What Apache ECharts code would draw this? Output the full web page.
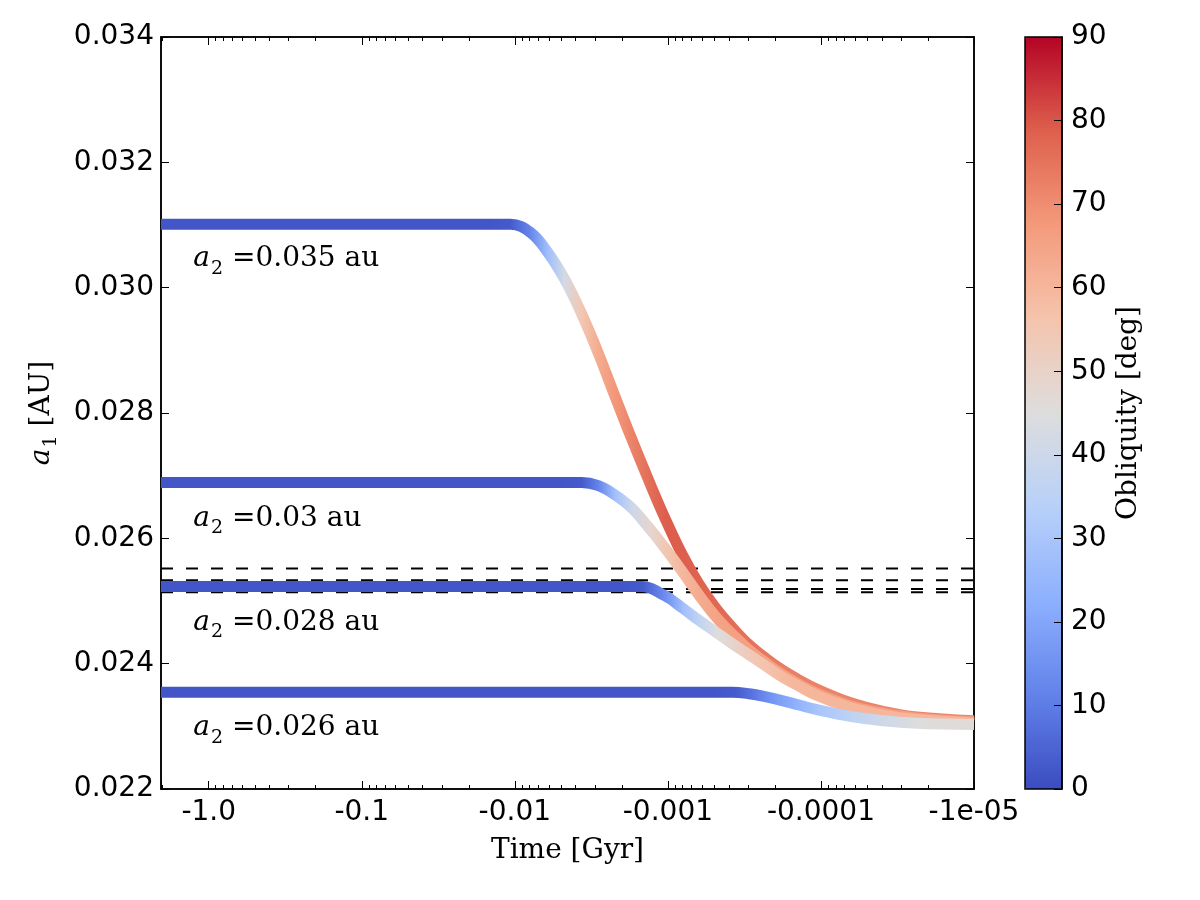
<!DOCTYPE html>
<html>
<head>
<meta charset="utf-8">
<title>a1 vs time, coloured by obliquity</title>
<script src="https://cdn.jsdelivr.net/npm/echarts@6/dist/echarts.min.js"></script>
<style>
  html, body { margin: 0; padding: 0; background: #fff; }
  #chart { width: 1200px; height: 900px; }
</style>
</head>
<body>
<div id="chart"></div>
<script>
// time in Gyr (negative = before now), a1 in AU, obliquity in deg

// a2 = 0.035 au
const time035 = [-2.05, -0.0144, -0.010668, -0.0078983, -0.0061182, -0.0047398, -0.0036718, -0.0028444, -0.0022372, -0.0017331, -0.0013426,
  -0.00104, -0.00080565, -0.00063338, -0.00049066, -0.0003801, -0.00029444, -0.00022811, -0.0001794, -0.00013896, -0.00010766,
  -0.000064594, -0.000039345, -0.000023609, -0.00001];
const a1_035 = [0.03101, 0.03101, 0.03101, 0.03088, 0.03057, 0.03014, 0.02959, 0.02895, 0.02829, 0.02760, 0.02694,
  0.02631, 0.02574, 0.02529, 0.02490, 0.02458, 0.02430, 0.02408, 0.02390, 0.02374, 0.02360,
  0.02338, 0.02324, 0.02315, 0.02309];
const obl035 = [2, 2, 3, 12, 27, 42, 55, 63, 68, 72, 76,
  79, 79, 78, 77, 76, 75, 74, 73, 73, 72,
  72, 72, 72, 72];

// a2 = 0.03 au
const time030 = [-2.05, -0.00494, -0.0036718, -0.0028444, -0.0022372, -0.0017331, -0.0013426, -0.00104, -0.00080565, -0.00063338, -0.00049066,
  -0.0003801, -0.00029444, -0.00022811, -0.0001794, -0.00013896, -0.00010766, -0.000064594, -0.000039345, -0.000023609, -0.00001];
const a1_030 = [0.02689, 0.02689, 0.02689, 0.02684, 0.02670, 0.02649, 0.02618, 0.02584, 0.02547, 0.02511, 0.02476,
  0.02447, 0.02422, 0.02401, 0.02383, 0.02367, 0.02353, 0.02333, 0.02321, 0.02313, 0.02307];
const obl030 = [2, 2, 3, 12, 28, 40, 48, 55, 60, 63, 65,
  66, 66, 66, 66, 66, 66, 66, 66, 66, 66];

// a2 = 0.028 au
const time028 = [-2.05, -0.00201, -0.00149, -0.00104, -0.00080565, -0.00063338, -0.00049066, -0.0003801, -0.00029444, -0.00022811, -0.0001794,
  -0.00013896, -0.00010766, -0.000064594, -0.000039345, -0.000023609, -0.00001];
const a1_028 = [0.02523, 0.02523, 0.02523, 0.02508, 0.02489, 0.02470, 0.02451, 0.02432, 0.02414, 0.02396, 0.02379,
  0.02364, 0.02350, 0.02330, 0.02318, 0.02311, 0.02305];
const obl028 = [2, 2, 3, 15, 28, 37, 45, 50, 54, 57, 59,
  60, 60, 60, 60, 60, 60];

// a2 = 0.026 au
const time026 = [-2.05, -0.0005, -0.0003801, -0.00029444, -0.00022811, -0.0001794, -0.00013896, -0.00010766, -0.000064594, -0.000039345, -0.000023609, -0.00001];
const a1_026 = [0.023545, 0.023545, 0.023545, 0.02352, 0.02347, 0.02341, 0.02334, 0.02327, 0.02316, 0.02309, 0.02305, 0.02303];
const obl026 = [2, 2, 3, 8, 15, 20, 25, 30, 36, 41, 45, 47];

// horizontal dashed levels
const dashedLevels = [0.02552, 0.02533, 0.02519, 0.02514];

// curve labels
const labelText = ['0.035', '0.03', '0.028', '0.026'];
const labelTime = [-1.27, -1.27, -1.27, -1.27];
const labelA1 = [0.03046, 0.02632, 0.02466, 0.02297];

// x tick labels, for 1e-5 ... 1
const timeTickLabels = ['-1e-05', '-0.0001', '-0.001', '-0.01', '-0.1', '-1.0'];

// matplotlib coolwarm
const coolwarm = ['#3b4cc0', '#6282ea', '#8db0fe', '#b8d0f9', '#dddddd', '#f5c4ad', '#f49a7b', '#de604d', '#b40426'];

function hexToRgb(h) {
  return [parseInt(h.substr(1, 2), 16), parseInt(h.substr(3, 2), 16), parseInt(h.substr(5, 2), 16)];
}
const coolwarmRgb = coolwarm.map(hexToRgb);

function oblColor(v) {
  const f = Math.max(0, Math.min(1, v / 90)) * (coolwarmRgb.length - 1);
  const i = Math.min(Math.floor(f), coolwarmRgb.length - 2);
  const t = f - i;
  const c0 = coolwarmRgb[i], c1 = coolwarmRgb[i + 1];
  const c = c0.map((x, k) => Math.round(x + (c1[k] - x) * t));
  return 'rgb(' + c.join(',') + ')';
}

// one smooth line per curve; colour runs left to right along the (log) time axis
function curveSeries(time, a1, obl) {
  const u = time.map(t => Math.log10(-t));
  const span = u[0] - u[u.length - 1];
  const stops = obl.map((o, i) => ({ offset: (u[0] - u[i]) / span, color: oblColor(o) }));
  return {
    type: 'line',
    xAxisIndex: 0,
    yAxisIndex: 0,
    silent: true,
    symbol: 'none',
    showSymbol: false,
    smooth: 0.4,
    clip: true,
    data: time.map((t, i) => [-t, a1[i]]),
    lineStyle: { width: 11, cap: 'butt', join: 'round', color: new echarts.graphic.LinearGradient(0, 0, 1, 0, stops) }
  };
}

function dashRenderer(params, api) {
  const cs = params.coordSys;
  const y = api.coord([1, api.value(1)])[1];
  return {
    type: 'line',
    shape: { x1: cs.x, y1: y, x2: cs.x + cs.width, y2: y },
    style: { stroke: '#000', lineWidth: 2, lineDash: [12, 13] }
  };
}

const tickFont = { fontFamily: 'DejaVu Sans', fontSize: 28, color: '#000' };
const serifFont = 'DejaVu Serif';
const blackLine = { color: '#000', width: 1.5 };
const tickStyle = { color: '#000', width: 1 };
const subStyle = { fontFamily: serifFont, fontSize: 19, color: '#000', padding: [20, 0, 0, 1], verticalAlign: 'bottom' };
const italicStyle = { fontFamily: serifFont, fontSize: 28, fontStyle: 'italic', color: '#000' };

const chart = echarts.init(document.getElementById('chart'));

const option = {
  animation: false,
  backgroundColor: '#fff',
  grid: [
    { left: 161, right: 226, top: 37, bottom: 111, show: true, borderColor: '#000', borderWidth: 1.5 },
    { left: 1025, width: 37, top: 37, bottom: 111, show: true, borderColor: '#000', borderWidth: 1.5, z: 10 }
  ],
  xAxis: [
    {
      type: 'log', logBase: 10, gridIndex: 0, position: 'bottom',
      min: 1e-5, max: 2.05, inverse: true,
      axisLine: { show: true, onZero: false, lineStyle: blackLine },
      axisTick: { show: true, inside: true, length: 8, lineStyle: tickStyle },
      minorTick: { show: true, splitNumber: 9, length: 4, lineStyle: tickStyle },
      splitLine: { show: false },
      axisLabel: {
        margin: 10,
        ...tickFont,
        formatter: function (v) {
          const e = Math.log10(v);
          const r = Math.round(e);
          if (Math.abs(e - r) > 1e-6) return '';
          return timeTickLabels[r + 5] || '';
        }
      },
      name: 'Time [Gyr]',
      nameLocation: 'middle',
      nameGap: 48,
      nameTextStyle: { fontFamily: serifFont, fontSize: 28, color: '#000' }
    },
    {
      type: 'log', logBase: 10, gridIndex: 0, position: 'top',
      min: 1e-5, max: 2.05, inverse: true,
      axisLine: { show: true, onZero: false, lineStyle: blackLine },
      axisTick: { show: true, inside: true, length: 8, lineStyle: tickStyle },
      minorTick: { show: true, splitNumber: 9, length: 4, lineStyle: tickStyle },
      splitLine: { show: false },
      axisLabel: { show: false }
    },
    { type: 'value', gridIndex: 1, show: false, min: 0, max: 1 }
  ],
  yAxis: [
    {
      type: 'value', gridIndex: 0, position: 'left',
      min: 0.022, max: 0.034, interval: 0.002,
      axisLine: { show: true, onZero: false, lineStyle: blackLine },
      axisTick: { show: true, inside: true, length: 8, lineStyle: tickStyle },
      splitLine: { show: false },
      axisLabel: { margin: 7, ...tickFont, formatter: v => v.toFixed(3) },
      name: '{i|a}{s|1} [AU]',
      nameLocation: 'middle',
      nameRotate: 90,
      nameGap: 100,
      nameTextStyle: {
        fontFamily: serifFont, fontSize: 28, color: '#000',
        rich: { i: italicStyle, s: subStyle }
      }
    },
    {
      type: 'value', gridIndex: 0, position: 'right',
      min: 0.022, max: 0.034, interval: 0.002,
      axisLine: { show: true, onZero: false, lineStyle: blackLine },
      axisTick: { show: true, inside: true, length: 8, lineStyle: tickStyle },
      splitLine: { show: false },
      axisLabel: { show: false }
    },
    {
      type: 'value', gridIndex: 1, position: 'right',
      min: 0, max: 90, interval: 10, z: 11,
      axisLine: { show: true, onZero: false, lineStyle: blackLine },
      axisTick: { show: true, inside: true, length: 8, lineStyle: tickStyle },
      splitLine: { show: false },
      axisLabel: { margin: 9, ...tickFont },
      name: 'Obliquity [deg]',
      nameLocation: 'middle',
      nameRotate: 90,
      nameGap: 53,
      nameTextStyle: { fontFamily: serifFont, fontSize: 28, color: '#000' }
    }
  ],
  visualMap: {
    type: 'continuous',
    min: 0, max: 90,
    dimension: 1,
    seriesIndex: 4,
    calculable: false,
    hoverLink: false,
    orient: 'vertical',
    left: 1025, top: 37,
    itemWidth: 37, itemHeight: 752,
    padding: 0,
    text: null,
    inRange: { color: coolwarm }
  },
  series: [
    curveSeries(time035, a1_035, obl035),
    curveSeries(time030, a1_030, obl030),
    curveSeries(time028, a1_028, obl028),
    curveSeries(time026, a1_026, obl026),
    {
      type: 'custom',
      xAxisIndex: 0, yAxisIndex: 0,
      silent: true,
      z: 3,
      data: dashedLevels.map(v => [1, v]),
      encode: { x: 0, y: 1 },
      renderItem: dashRenderer
    },
    {
      type: 'scatter',
      xAxisIndex: 0, yAxisIndex: 0,
      silent: true,
      symbolSize: 1,
      itemStyle: { color: 'rgba(0,0,0,0)', opacity: 1 },
      data: labelTime.map((t, i) => [-t, labelA1[i]]),
      label: {
        show: true,
        position: 'right',
        distance: 0,
        fontFamily: serifFont,
        fontSize: 28,
        color: '#000',
        formatter: p => '{i|a}{s|2} =' + labelText[p.dataIndex] + ' au',
        rich: { i: italicStyle, s: subStyle }
      }
    }
  ]
};

chart.setOption(option);
window.addEventListener('resize', function () { chart.resize(); });
</script>
</body>
</html>
